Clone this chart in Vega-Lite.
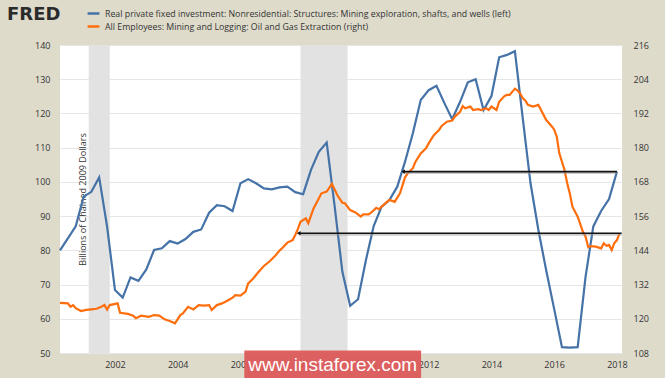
{
  "$schema": "https://vega.github.io/schema/vega-lite/v6.json",
  "width": 562,
  "height": 308,
  "autosize": "none",
  "padding": {"left": 60, "top": 45, "right": 43, "bottom": 25},
  "background": "#dedbcb",
  "config": {
    "view": {"fill": "#ffffff", "stroke": null},
    "axis": {"labelFont": "Open Sans", "labelFontSize": 9, "labelColor": "#333333", "domain": false, "ticks": false}
  },
  "datasets": {
    "blue": [
      {"date": "2000-04-01", "v": 80.0}, {"date": "2000-07-01", "v": 83.5}, {"date": "2000-10-01", "v": 87.0},
      {"date": "2001-01-01", "v": 95.7}, {"date": "2001-04-01", "v": 97.1}, {"date": "2001-07-01", "v": 101.3},
      {"date": "2001-10-01", "v": 87.0}, {"date": "2002-01-01", "v": 68.4}, {"date": "2002-04-01", "v": 66.2},
      {"date": "2002-07-01", "v": 72.1}, {"date": "2002-10-01", "v": 71.1}, {"date": "2003-01-01", "v": 74.4},
      {"date": "2003-04-01", "v": 80.1}, {"date": "2003-07-01", "v": 80.6}, {"date": "2003-10-01", "v": 82.7},
      {"date": "2004-01-01", "v": 82.0}, {"date": "2004-04-01", "v": 83.3}, {"date": "2004-07-01", "v": 85.4},
      {"date": "2004-10-01", "v": 86.1}, {"date": "2005-01-01", "v": 91.0}, {"date": "2005-04-01", "v": 93.2},
      {"date": "2005-07-01", "v": 92.9}, {"date": "2005-10-01", "v": 91.5}, {"date": "2006-01-01", "v": 99.6},
      {"date": "2006-04-01", "v": 100.8}, {"date": "2006-07-01", "v": 99.6}, {"date": "2006-10-01", "v": 98.1},
      {"date": "2007-01-01", "v": 97.8}, {"date": "2007-04-01", "v": 98.4}, {"date": "2007-07-01", "v": 98.6},
      {"date": "2007-10-01", "v": 97.0}, {"date": "2008-01-01", "v": 96.4}, {"date": "2008-04-01", "v": 103.5},
      {"date": "2008-07-01", "v": 108.8}, {"date": "2008-10-01", "v": 111.5}, {"date": "2009-01-01", "v": 93.0},
      {"date": "2009-04-01", "v": 73.8}, {"date": "2009-07-01", "v": 63.8}, {"date": "2009-10-01", "v": 65.7},
      {"date": "2010-01-01", "v": 77.2}, {"date": "2010-04-01", "v": 87.1}, {"date": "2010-07-01", "v": 92.7},
      {"date": "2010-10-01", "v": 94.7}, {"date": "2011-01-01", "v": 98.6}, {"date": "2011-04-01", "v": 105.9},
      {"date": "2011-07-01", "v": 114.2}, {"date": "2011-10-01", "v": 123.9}, {"date": "2012-01-01", "v": 126.8},
      {"date": "2012-04-01", "v": 128.1}, {"date": "2012-07-01", "v": 123.1}, {"date": "2012-10-01", "v": 118.3},
      {"date": "2013-01-01", "v": 123.4}, {"date": "2013-04-01", "v": 129.1}, {"date": "2013-07-01", "v": 130.0},
      {"date": "2013-10-01", "v": 121.0}, {"date": "2014-01-01", "v": 125.1}, {"date": "2014-04-01", "v": 136.4},
      {"date": "2014-07-01", "v": 137.1}, {"date": "2014-10-01", "v": 138.2}, {"date": "2015-01-01", "v": 118.5},
      {"date": "2015-04-01", "v": 99.6}, {"date": "2015-07-01", "v": 86.0}, {"date": "2015-10-01", "v": 74.1},
      {"date": "2016-01-01", "v": 62.9}, {"date": "2016-04-01", "v": 51.7}, {"date": "2016-07-01", "v": 51.6},
      {"date": "2016-10-01", "v": 51.7}, {"date": "2017-01-01", "v": 72.3}, {"date": "2017-04-01", "v": 87.0},
      {"date": "2017-07-01", "v": 91.5}, {"date": "2017-10-01", "v": 95.0}, {"date": "2018-01-01", "v": 103.0}
    ],
    "orange": [
      {"date": "2000-04-01", "v": 125.6}, {"date": "2000-07-01", "v": 125.4}, {"date": "2000-08-01", "v": 124.2},
      {"date": "2000-09-01", "v": 124.8}, {"date": "2000-10-01", "v": 123.7}, {"date": "2000-12-01", "v": 122.7},
      {"date": "2001-02-01", "v": 123.1}, {"date": "2001-04-01", "v": 123.3}, {"date": "2001-06-01", "v": 123.5},
      {"date": "2001-08-01", "v": 124.3}, {"date": "2001-09-01", "v": 124.8}, {"date": "2001-10-01", "v": 123.2},
      {"date": "2001-11-01", "v": 124.8}, {"date": "2002-02-01", "v": 125.4}, {"date": "2002-03-01", "v": 122.1},
      {"date": "2002-06-01", "v": 121.7}, {"date": "2002-08-01", "v": 121.1}, {"date": "2002-09-01", "v": 120.2},
      {"date": "2002-11-01", "v": 121.1}, {"date": "2003-02-01", "v": 120.7}, {"date": "2003-04-01", "v": 121.3},
      {"date": "2003-06-01", "v": 121.1}, {"date": "2003-08-01", "v": 119.8}, {"date": "2003-10-01", "v": 119.2},
      {"date": "2003-12-01", "v": 118.4}, {"date": "2004-02-01", "v": 121.3}, {"date": "2004-03-01", "v": 121.9},
      {"date": "2004-05-01", "v": 124.2}, {"date": "2004-07-01", "v": 123.3}, {"date": "2004-09-01", "v": 124.8},
      {"date": "2004-11-01", "v": 124.6}, {"date": "2005-01-01", "v": 124.8}, {"date": "2005-02-01", "v": 123.1},
      {"date": "2005-04-01", "v": 124.8}, {"date": "2005-06-01", "v": 125.4}, {"date": "2005-08-01", "v": 126.3},
      {"date": "2005-10-01", "v": 127.4}, {"date": "2005-11-01", "v": 128.3}, {"date": "2006-01-01", "v": 128.1},
      {"date": "2006-03-01", "v": 129.5}, {"date": "2006-04-01", "v": 132.4}, {"date": "2006-06-01", "v": 134.2},
      {"date": "2006-08-01", "v": 136.5}, {"date": "2006-10-01", "v": 138.5}, {"date": "2006-12-01", "v": 140.0},
      {"date": "2007-02-01", "v": 141.8}, {"date": "2007-04-01", "v": 143.9}, {"date": "2007-05-01", "v": 144.7},
      {"date": "2007-07-01", "v": 146.7}, {"date": "2007-09-01", "v": 147.6}, {"date": "2007-10-01", "v": 149.4},
      {"date": "2007-11-01", "v": 151.5}, {"date": "2007-12-01", "v": 154.0}, {"date": "2008-02-01", "v": 155.2},
      {"date": "2008-03-01", "v": 153.5}, {"date": "2008-05-01", "v": 158.7}, {"date": "2008-07-01", "v": 162.2},
      {"date": "2008-08-01", "v": 164.0}, {"date": "2008-10-01", "v": 164.6}, {"date": "2008-12-01", "v": 167.3},
      {"date": "2009-02-01", "v": 163.4}, {"date": "2009-04-01", "v": 160.7}, {"date": "2009-05-01", "v": 160.5},
      {"date": "2009-07-01", "v": 158.1}, {"date": "2009-09-01", "v": 157.3}, {"date": "2009-11-01", "v": 155.8},
      {"date": "2009-12-01", "v": 156.6}, {"date": "2010-02-01", "v": 156.6}, {"date": "2010-03-01", "v": 157.2},
      {"date": "2010-05-01", "v": 158.9}, {"date": "2010-06-01", "v": 158.4}, {"date": "2010-08-01", "v": 160.1},
      {"date": "2010-10-01", "v": 161.7}, {"date": "2010-12-01", "v": 161.0}, {"date": "2011-02-01", "v": 164.0},
      {"date": "2011-04-01", "v": 169.6}, {"date": "2011-05-01", "v": 171.0}, {"date": "2011-07-01", "v": 172.8},
      {"date": "2011-08-01", "v": 175.1}, {"date": "2011-10-01", "v": 178.0}, {"date": "2011-12-01", "v": 179.8},
      {"date": "2012-01-01", "v": 181.5}, {"date": "2012-03-01", "v": 184.4}, {"date": "2012-05-01", "v": 186.2},
      {"date": "2012-06-01", "v": 187.6}, {"date": "2012-08-01", "v": 189.1}, {"date": "2012-10-01", "v": 189.5},
      {"date": "2012-11-01", "v": 190.9}, {"date": "2013-01-01", "v": 192.6}, {"date": "2013-02-01", "v": 194.6},
      {"date": "2013-03-01", "v": 193.8}, {"date": "2013-05-01", "v": 194.4}, {"date": "2013-06-01", "v": 193.2},
      {"date": "2013-08-01", "v": 193.5}, {"date": "2013-09-01", "v": 193.2}, {"date": "2013-11-01", "v": 193.8},
      {"date": "2013-12-01", "v": 193.2}, {"date": "2014-01-01", "v": 194.4}, {"date": "2014-03-01", "v": 193.2},
      {"date": "2014-04-01", "v": 196.1}, {"date": "2014-06-01", "v": 198.1}, {"date": "2014-07-01", "v": 198.5},
      {"date": "2014-08-01", "v": 198.5}, {"date": "2014-10-01", "v": 200.7}, {"date": "2014-11-01", "v": 200.0},
      {"date": "2014-12-01", "v": 199.0}, {"date": "2015-01-01", "v": 197.3}, {"date": "2015-02-01", "v": 196.5},
      {"date": "2015-03-01", "v": 195.0}, {"date": "2015-05-01", "v": 194.4}, {"date": "2015-07-01", "v": 195.0},
      {"date": "2015-08-01", "v": 193.2}, {"date": "2015-10-01", "v": 189.7}, {"date": "2015-12-01", "v": 187.6},
      {"date": "2016-01-01", "v": 186.4}, {"date": "2016-02-01", "v": 183.8}, {"date": "2016-03-01", "v": 178.0},
      {"date": "2016-05-01", "v": 172.2}, {"date": "2016-06-01", "v": 167.5}, {"date": "2016-07-01", "v": 164.0},
      {"date": "2016-08-01", "v": 159.3}, {"date": "2016-10-01", "v": 155.8}, {"date": "2016-12-01", "v": 150.5},
      {"date": "2017-01-01", "v": 148.8}, {"date": "2017-02-01", "v": 145.1}, {"date": "2017-03-01", "v": 145.5},
      {"date": "2017-05-01", "v": 145.3}, {"date": "2017-07-01", "v": 144.7}, {"date": "2017-08-01", "v": 146.5},
      {"date": "2017-09-01", "v": 145.6}, {"date": "2017-10-01", "v": 145.9}, {"date": "2017-11-01", "v": 144.1},
      {"date": "2017-12-01", "v": 146.5}, {"date": "2018-01-01", "v": 147.6}, {"date": "2018-02-01", "v": 150.0}
    ],
    "recessions": [
      {"date": "2001-03-01", "date2": "2001-11-01"},
      {"date": "2007-12-01", "date2": "2009-06-01"}
    ],
    "arrows": [
      {"date": "2011-03-10", "date2": "2018-01-01", "v": 103.0},
      {"date": "2007-11-10", "date2": "2018-02-25", "v": 85.0}
    ],
    "watermark": [
      {"date": "2006-02-15", "date2": "2011-10-05", "lo": 42.6, "hi": 50.7, "mid": "2008-12-10", "y": 46.4, "label": "www.instaforex.com"}
    ]
  },
  "encoding": {
    "x": {
      "field": "date", "type": "temporal",
      "scale": {"domain": ["2000-04-01", "2018-03-01"]},
      "axis": {"format": "%Y", "tickCount": {"interval": "year", "step": 2}, "grid": false, "labelPadding": 7, "title": null}
    }
  },
  "layer": [
    {
      "data": {"name": "recessions"},
      "mark": {"type": "rect", "color": "#e2e2e2"},
      "encoding": {"x2": {"field": "date2"}}
    },
    {
      "data": {"name": "blue"},
      "mark": {"type": "line", "strokeWidth": 2.2, "interpolate": "linear"},
      "encoding": {
        "y": {
          "field": "v", "type": "quantitative",
          "scale": {"domain": [50, 140], "nice": false, "zero": false},
          "axis": {
            "orient": "left", "values": [50, 60, 70, 80, 90, 100, 110, 120, 130, 140],
            "grid": true, "gridColor": "#e6e6e6", "labelPadding": 10,
            "title": "Billions of Chained 2009 Dollars", "titleX": 22, "titleY": 154, "titleAngle": -90,
            "titleAlign": "center", "titleBaseline": "middle", "titleFont": "Open Sans", "titleFontSize": 9,
            "titleFontWeight": "normal", "titleColor": "#333333"
          }
        },
        "color": {
          "datum": "Real private fixed investment: Nonresidential: Structures: Mining exploration, shafts, and wells (left)",
          "type": "nominal",
          "scale": {
            "domain": ["Real private fixed investment: Nonresidential: Structures: Mining exploration, shafts, and wells (left)", "All Employees: Mining and Logging: Oil and Gas Extraction (right)"],
            "range": ["#4572a7", "#ff6e0c"]
          },
          "legend": {
            "orient": "none", "legendX": -53, "legendY": -39, "direction": "vertical",
            "title": "FRED", "titleOrient": "left", "titleAnchor": "start", "titleFont": "DejaVu Sans", "titleFontSize": 18, "titleFontWeight": "bold",
            "titleColor": "#2b2b2b", "titlePadding": 25, "titleBaseline": "top",
            "labelFont": "Open Sans", "labelFontSize": 8.8, "labelColor": "#333333", "labelLimit": 700,
            "symbolType": "stroke", "symbolStrokeWidth": 2.5, "symbolSize": 140, "rowPadding": -3, "labelOffset": 4
          }
        }
      }
    },
    {
      "data": {"name": "orange"},
      "mark": {"type": "line", "strokeWidth": 2.2, "interpolate": "linear"},
      "encoding": {
        "y": {
          "field": "v", "type": "quantitative",
          "scale": {"domain": [108, 216], "nice": false, "zero": false},
          "axis": {"orient": "right", "values": [108, 120, 132, 144, 156, 168, 180, 192, 204, 216], "grid": false, "labelPadding": 11, "title": null}
        },
        "color": {"datum": "All Employees: Mining and Logging: Oil and Gas Extraction (right)", "type": "nominal"}
      }
    },
    {
      "data": {"name": "arrows"},
      "layer": [
        {
          "mark": {"type": "rule", "color": "#999999", "strokeWidth": 2, "opacity": 0.5, "yOffset": 1.5},
          "encoding": {
            "x2": {"field": "date2"},
            "y": {"field": "v", "type": "quantitative", "scale": {"domain": [50, 140], "nice": false, "zero": false}, "axis": null}
          }
        },
        {
          "mark": {"type": "rule", "color": "#111111", "strokeWidth": 1.6},
          "encoding": {
            "x2": {"field": "date2"},
            "y": {"field": "v", "type": "quantitative", "scale": {"domain": [50, 140], "nice": false, "zero": false}, "axis": null}
          }
        },
        {
          "mark": {"type": "point", "shape": "triangle-left", "filled": true, "color": "#111111", "size": 18, "opacity": 1},
          "encoding": {
            "y": {"field": "v", "type": "quantitative", "scale": {"domain": [50, 140], "nice": false, "zero": false}, "axis": null}
          }
        }
      ]
    },
    {
      "data": {"name": "watermark"},
      "layer": [
        {
          "mark": {"type": "rect", "color": "#dc5a5a", "opacity": 0.95},
          "encoding": {
            "x2": {"field": "date2"},
            "y": {"field": "hi", "type": "quantitative", "scale": {"domain": [50, 140], "nice": false, "zero": false}, "axis": null},
            "y2": {"field": "lo"}
          }
        },
        {
          "mark": {"type": "text", "color": "#ffffff", "font": "Liberation Sans", "fontSize": 19, "align": "center", "baseline": "middle"},
          "encoding": {
            "x": {"field": "mid", "type": "temporal"},
            "y": {"field": "y", "type": "quantitative", "scale": {"domain": [50, 140], "nice": false, "zero": false}, "axis": null},
            "text": {"field": "label"}
          }
        }
      ]
    }
  ],
  "resolve": {"scale": {"y": "independent"}}
}
